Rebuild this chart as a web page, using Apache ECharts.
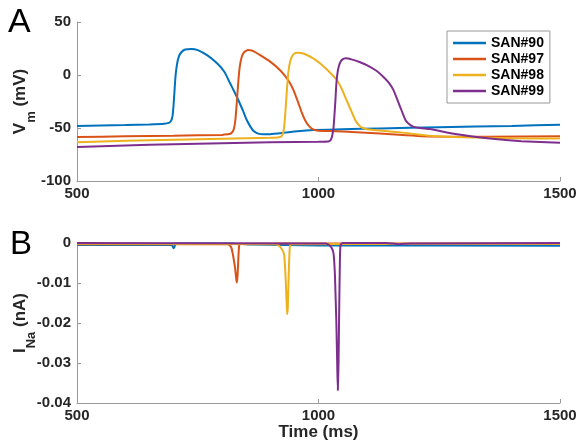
<!DOCTYPE html>
<html>
<head>
<meta charset="utf-8">
<script src="https://cdn.jsdelivr.net/npm/echarts@6/dist/echarts.min.js"></script>
<style>
  html, body { margin: 0; padding: 0; background: #fff; }
  #chart { width: 579px; height: 445px; }
</style>
</head>
<body>
<div id="chart"></div>
<script>
// series names and colours
const names = ['SAN#90', 'SAN#97', 'SAN#98', 'SAN#99'];
const colors = ['#0072BD', '#D95319', '#EDB120', '#7E2F8E'];

// panel A: membrane potential, [time ms, mV]
const vm90 = [[500,-48],[550,-47.6],[600,-47.2],[650,-46.6],[680,-46],[690,-45.2],[695,-43],[698,-38],[700,-28],[702,-14],[704,-1],[707,10],[711,17.5],[716,21.5],[724,24],[737,24.6],[750,23.5],[770,18.5],[790,11],[805,3],[817,-7.8],[826,-16],[834,-23.6],[843,-33],[851,-42],[858,-48],[865,-52.5],[875,-55.3],[886,-56],[900,-55.8],[926,-54.6],[950,-53.4],[990,-52],[1050,-51.2],[1127,-50.4],[1250,-49.3],[1400,-48],[1500,-47]];
const vm97 = [[500,-58.5],[600,-57.9],[700,-57.3],[800,-56.5],[812,-56],[818,-55.3],[824,-52],[828,-42],[831,-25],[834,-6],[837,8],[841,17],[846,21.5],[854,23.6],[865,22.5],[880,18.5],[900,12.6],[920,4.7],[937,-4.7],[948,-14],[958,-26],[965,-35],[972,-42.4],[980,-48],[989,-51.3],[1000,-52.6],[1024,-52.8],[1050,-53.2],[1127,-55.2],[1231,-58],[1350,-58.2],[1500,-57.8]];
const vm98 = [[500,-63.5],[600,-62],[700,-61],[800,-60.2],[900,-59.3],[918,-58.8],[924,-57.5],[928,-52],[931,-38],[934,-18],[937,0],[940,10],[944,16.5],[950,20.3],[956,21],[970,20],[990,15.5],[1003,11],[1020,4],[1038,-4.7],[1048,-13],[1058,-23.6],[1067,-33],[1076,-42.4],[1084,-47.5],[1092,-50],[1105,-51.5],[1127,-52.3],[1180,-54.6],[1231,-57.4],[1300,-58.8],[1400,-59.6],[1500,-60]];
const vm99 = [[500,-68],[600,-66.5],[700,-65.3],[800,-64.3],[900,-63.5],[1000,-63],[1020,-62.8],[1025,-61.5],[1028,-58],[1031,-50],[1033,-38],[1035,-24],[1037,-8],[1040,4],[1044,11],[1049,14.5],[1056,15.7],[1070,14.5],[1085,12.3],[1100,9.4],[1120,4],[1134,-1.6],[1145,-7],[1155,-14],[1163,-23],[1169,-30],[1175,-37],[1180,-42.4],[1188,-46.5],[1196,-48.7],[1210,-50],[1231,-51],[1287,-56],[1355,-60],[1420,-62.5],[1500,-64]];

// panel B: sodium current, [time ms, nA]
const ina90 = [[500,-0.0005],[695,-0.0005],[698,-0.0008],[700,-0.0013],[702,-0.0009],[704,-0.0001],[820,-0.0001],[860,-0.0004],[1000,-0.0006],[1500,-0.0007]];
const ina97 = [[500,-0.0003],[813,-0.0003],[819,-0.001],[823,-0.003],[827,-0.006],[830,-0.0093],[831,-0.0099],[832.5,-0.008],[834,-0.004],[835.5,-0.0008],[837,-0.0002],[1100,-0.0001],[1500,-0.0002]];
const ina98 = [[500,-0.0002],[912,-0.0003],[918,-0.0007],[924,-0.0015],[929,-0.003],[932,-0.009],[934,-0.015],[935,-0.0178],[936.5,-0.016],[938,-0.009],[940,-0.002],[942,-0.0003],[1500,-0.0002]];
const ina99 = [[500,0],[1015,-0.0001],[1022,-0.0005],[1027,-0.0012],[1031,-0.0025],[1034,-0.008],[1037,-0.02],[1039,-0.032],[1040,-0.0368],[1041.5,-0.03],[1043,-0.015],[1044.5,-0.003],[1046,-0.0004],[1050,0],[1140,0],[1165,-0.0003],[1190,-0.0001],[1500,0]];

const xTicks = [500, 1500, 500];     // min, max, interval
const vmTicks = [-100, 50, 50];
const inaTicks = [-0.04, 0, 0.01];

const vmData = [vm90, vm97, vm98, vm99];
const inaData = [ina90, ina97, ina98, ina99];

const font = "'Liberation Sans', Arial, Helvetica, sans-serif";
const axisGray = '#9a9a9a';
const textDark = '#262626';

function xAxis(idx, withName) {
  return {
    type: 'value', gridIndex: idx,
    min: xTicks[0], max: xTicks[1], interval: xTicks[2],
    axisLine: { onZero: false, lineStyle: { color: axisGray, width: 1 } },
    axisTick: { inside: true, length: 4, lineStyle: { color: axisGray } },
    axisLabel: {
      color: textDark, fontSize: 15, fontWeight: 'bold', fontFamily: font, margin: 5,
      formatter: v => String(v)
    },
    splitLine: { show: false },
    name: withName ? 'Time (ms)' : '',
    nameLocation: 'middle', nameGap: 21, nameMoveOverlap: false,
    nameTextStyle: { color: textDark, fontSize: 17, fontWeight: 'bold', fontFamily: font }
  };
}

function yAxis(idx, ticks, name) {
  return {
    type: 'value', gridIndex: idx,
    min: ticks[0], max: ticks[1], interval: ticks[2],
    axisLine: { show: true, onZero: false, lineStyle: { color: axisGray, width: 1 } },
    axisTick: { show: true, inside: true, length: 4, lineStyle: { color: axisGray } },
    axisLabel: { color: textDark, fontSize: 15, fontWeight: 'bold', fontFamily: font, margin: 6 },
    splitLine: { show: false },
    name: name,
    nameLocation: 'middle', nameRotate: 90, nameGap: 48, nameMoveOverlap: false,
    nameTextStyle: {
      color: textDark, fontFamily: font,
      rich: {
        a: { fontSize: 17, fontWeight: 'bold', color: textDark, fontFamily: font, lineHeight: 17, verticalAlign: 'top' },
        b: { fontSize: 13, fontWeight: 'bold', color: textDark, fontFamily: font, lineHeight: 13, verticalAlign: 'top', padding: [13, 0, 0, 0] }
      }
    }
  };
}

const series = [];
names.forEach((n, i) => {
  series.push({
    name: n, type: 'line', xAxisIndex: 0, yAxisIndex: 0,
    data: vmData[i], showSymbol: false, symbol: 'none',
    smooth: 0.15,
    lineStyle: { color: colors[i], width: 2 }, itemStyle: { color: colors[i] }
  });
});
names.forEach((n, i) => {
  series.push({
    name: n, type: 'line', xAxisIndex: 1, yAxisIndex: 1,
    data: inaData[i], showSymbol: false, symbol: 'none',
    smooth: 0.1,
    lineStyle: { color: colors[i], width: 2 }, itemStyle: { color: colors[i] }
  });
});

const chart = echarts.init(document.getElementById('chart'), null, { renderer: 'canvas' });
chart.setOption({
  animation: false,
  backgroundColor: '#fff',
  grid: [
    { left: 77, right: 19, top: 22, height: 159, outerBoundsMode: 'none', containLabel: false },
    { left: 77, right: 19, top: 243, height: 160, outerBoundsMode: 'none', containLabel: false }
  ],
  xAxis: [xAxis(0, false), xAxis(1, true)],
  yAxis: [
    yAxis(0, vmTicks, '{a|V}{b|m}{a| (mV)}'),
    yAxis(1, inaTicks, '{a|I}{b|Na}{a| (nA)}')
  ],
  legend: {
    data: names, orient: 'vertical', left: 447, top: 31,
    padding: [5, 6, 5, 6], itemGap: 2, itemWidth: 33, itemHeight: 2.5,
    icon: 'rect', borderColor: '#999', borderWidth: 1, backgroundColor: '#fff',
    textStyle: { fontSize: 14, fontWeight: 'bold', color: '#000', fontFamily: font, lineHeight: 14 }
  },
  graphic: [
    { type: 'text', left: 8, top: 6, style: { text: 'A', fontSize: 34, fontFamily: font, fill: '#000' } },
    { type: 'text', left: 10, top: 228, style: { text: 'B', fontSize: 33, fontFamily: font, fill: '#000' } }
  ],
  series: series
});
</script>
</body>
</html>
